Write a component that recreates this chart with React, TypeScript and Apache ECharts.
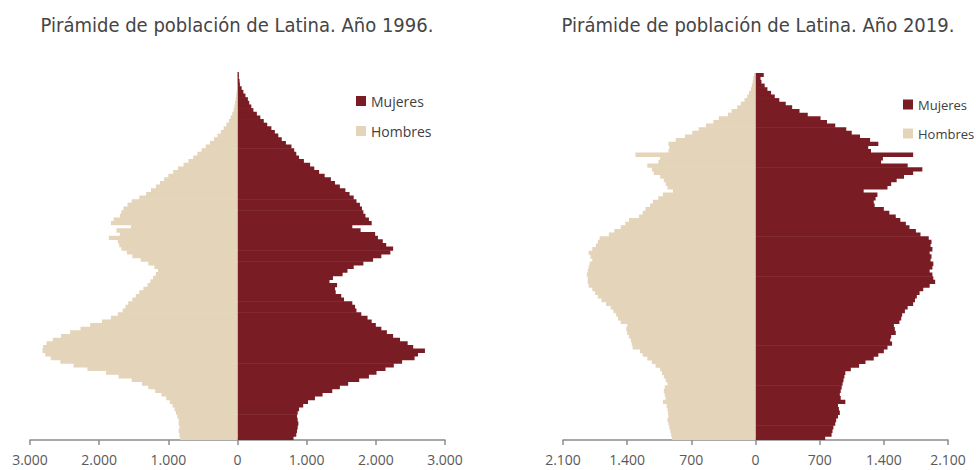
import React, { useEffect, useRef } from "react";
import * as echarts from "echarts";

// Ages 0 .. 100 (bottom to top)
const AGES: string[] = Array.from({ length: 101 }, (_, i) => (i === 100 ? "100+" : String(i)));

const TITLE_1996 = "Pirámide de población de Latina. Año 1996.";
const TITLE_2019 = "Pirámide de población de Latina. Año 2019.";
const LEGEND = ["Mujeres", "Hombres"];

// Axis extents / tick steps
const MAX_1996 = 3000;
const STEP_1996 = 1000;
const MAX_2019 = 2100;
const STEP_2019 = 700;

// 1996 (index = age)
const hombres1996 = [
  830, 840, 850, 840, 850, 850, 870, 890, 910, 940,
  980, 1030, 1100, 1190, 1290, 1380, 1530, 1720, 1900, 2170,
  2370, 2560, 2700, 2780, 2820, 2810, 2760, 2670, 2550, 2420,
  2270, 2130, 1960, 1830, 1730, 1660, 1620, 1580, 1520, 1470,
  1420, 1360, 1300, 1260, 1220, 1180, 1150, 1200, 1290, 1400,
  1520, 1600, 1680, 1710, 1730, 1860, 1700, 1750, 1540, 1830,
  1790, 1700, 1680, 1650, 1590, 1530, 1420, 1320, 1250, 1180,
  1120, 1060, 1000, 930, 860, 780, 710, 640, 580, 520,
  460, 400, 340, 290, 240, 200, 160, 125, 100, 75,
  55, 45, 35, 25, 18, 12, 8, 6, 4, 3,
  3,
];
const mujeres1996 = [
  810, 850, 860, 870, 880, 870, 860, 870, 890, 950,
  1020, 1120, 1230, 1370, 1480, 1600, 1760, 1900, 2010, 2140,
  2260, 2380, 2560, 2610, 2710, 2540, 2460, 2350, 2250, 2160,
  2080, 2000, 1940, 1880, 1790, 1720, 1700, 1660, 1540, 1500,
  1420, 1410, 1440, 1330, 1380, 1520, 1590, 1680, 1820, 1960,
  2080, 2210, 2250, 2150, 2100, 2030, 1990, 1780, 1660, 1940,
  1900, 1850, 1820, 1800, 1770, 1720, 1680, 1620, 1560, 1480,
  1410, 1350, 1260, 1180, 1110, 1050, 960, 890, 850, 820,
  780, 700, 640, 590, 540, 490, 430, 380, 330, 280,
  230, 200, 170, 150, 115, 85, 60, 35, 30, 20,
  20,
];

// 2019 (index = age)
const hombres2019 = [
  910, 920, 930, 940, 950, 960, 950, 955, 960, 970,
  1010, 980, 990, 1000, 990, 960, 980, 1000, 1020, 1040,
  1090, 1130, 1180, 1230, 1260, 1340, 1350, 1360, 1380, 1400,
  1410, 1400, 1470, 1500, 1520, 1550, 1580, 1630, 1680, 1720,
  1750, 1780, 1820, 1830, 1830, 1840, 1830, 1820, 1810, 1780,
  1800, 1820, 1780, 1740, 1720, 1700, 1600, 1540, 1470, 1420,
  1380, 1270, 1230, 1200, 1150, 1120, 1060, 1010, 900, 960,
  980, 1000, 1040, 1110, 1130, 1180, 1060, 1040, 1310, 950,
  940, 950, 870, 770, 690, 620, 540, 460, 400, 300,
  260, 200, 160, 120, 90, 70, 50, 40, 30, 25,
  15,
];
const mujeres2019 = [
  760, 830, 840, 850, 870, 880, 900, 920, 910, 900,
  980, 930, 920, 930, 940, 950, 960, 970, 980, 1040,
  1130, 1200, 1290, 1340, 1400, 1440, 1490, 1470, 1480, 1530,
  1520, 1510, 1570, 1590, 1600, 1630, 1660, 1720, 1740, 1760,
  1790, 1830, 1900, 1960, 1940, 1930, 1900, 1930, 1940, 1910,
  1920, 1900, 1930, 1910, 1920, 1890, 1800, 1750, 1680, 1640,
  1580, 1530, 1460, 1400, 1300, 1290, 1310, 1330, 1180, 1440,
  1480, 1540, 1620, 1720, 1820, 1660, 1370, 1390, 1720, 1260,
  1230, 1340, 1250, 1140, 1050, 990, 870, 780, 710, 570,
  480, 400, 330, 260, 210, 170, 130, 100, 65, 55,
  90,
];

const C_MUJ = "#7A1C24";
const C_HOM = "#E3D4BA";
const AXIS_COLOR = "#8C8C8C";
const LABEL_COLOR = "#595959";
const FONT = "'Open Sans', 'Liberation Sans', sans-serif";
const TITLE_FONT = "20px 'DejaVu Sans Condensed', 'Liberation Sans Narrow', sans-serif";

const fmt = (v: number) => {
  const a = Math.abs(Math.round(v));
  return String(a).replace(/\B(?=(\d{3})+(?!\d))/g, ".");
};

function xAxisFor(gridIndex: number, max: number, step: number) {
  return {
    type: "value",
    gridIndex,
    min: -max,
    max: max,
    interval: step,
    axisLine: { show: true, lineStyle: { color: AXIS_COLOR, width: 1.5 } },
    axisTick: { show: true, length: 5, lineStyle: { color: AXIS_COLOR, width: 1.5 } },
    splitLine: { show: false },
    axisLabel: {
      color: LABEL_COLOR,
      fontSize: 14,
      fontFamily: FONT,
      margin: 12,
      formatter: (v: number) => fmt(v),
    },
  };
}

function yAxisFor(gridIndex: number) {
  return {
    type: "category",
    gridIndex,
    data: AGES,
    show: false,
    axisLine: { show: false },
    axisTick: { show: false },
    axisLabel: { show: false },
  };
}

function barSeries(name: string, idx: number, stack: string, data: number[], color: string) {
  return {
    name,
    type: "bar",
    xAxisIndex: idx,
    yAxisIndex: idx,
    stack,
    data,
    barWidth: 4.3,
    itemStyle: { color },
    emphasis: { disabled: true },
  };
}

function legendFor(left: number, top: number, fontSize: number) {
  return {
    data: LEGEND,
    left,
    top,
    orient: "vertical",
    icon: "rect",
    itemWidth: 10,
    itemHeight: 10,
    itemGap: 16,
    selectedMode: false,
    textStyle: { color: "#404040", fontSize, fontFamily: FONT },
  };
}

export default function App() {
  const ref = useRef<HTMLDivElement | null>(null);
  useEffect(() => {
    if (!ref.current) return;
    const chart = echarts.init(ref.current, null, { renderer: "svg" });
    chart.setOption({
      animation: false,
      backgroundColor: "#ffffff",
      grid: [
        { left: 30, width: 415, top: 72, height: 368 },
        { left: 563, width: 385, top: 73, height: 367 },
      ],
      xAxis: [xAxisFor(0, MAX_1996, STEP_1996), xAxisFor(1, MAX_2019, STEP_2019)],
      yAxis: [yAxisFor(0), yAxisFor(1)],
      legend: [legendFor(351, 89, 14), legendFor(898, 93, 13)],
      graphic: [
        {
          type: "text",
          x: 237,
          y: 25,
          style: {
            text: TITLE_1996,
            fill: "#454545",
            font: TITLE_FONT,
            textAlign: "center",
            textVerticalAlign: "middle",
          },
        },
        {
          type: "text",
          x: 758,
          y: 25,
          style: {
            text: TITLE_2019,
            fill: "#454545",
            font: TITLE_FONT,
            textAlign: "center",
            textVerticalAlign: "middle",
          },
        },
      ],
      series: [
        barSeries("Mujeres", 0, "p1996", mujeres1996, C_MUJ),
        barSeries("Hombres", 0, "p1996", hombres1996.map((v) => -v), C_HOM),
        barSeries("Mujeres", 1, "p2019", mujeres2019, C_MUJ),
        barSeries("Hombres", 1, "p2019", hombres2019.map((v) => -v), C_HOM),
      ],
    });
    return () => chart.dispose();
  }, []);
  return (
    <div
      ref={ref}
      style={{ position: "fixed", left: 0, top: 0, width: 976, height: 470, background: "#fff" }}
    />
  );
}
